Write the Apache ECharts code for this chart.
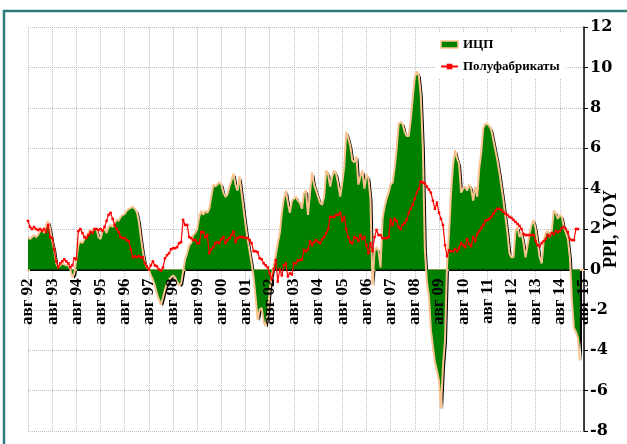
<!DOCTYPE html>
<html>
<head>
<meta charset="utf-8">
<script src="https://cdn.jsdelivr.net/npm/echarts@6/dist/echarts.min.js"></script>
<style>
  html, body { margin: 0; padding: 0; background: #fff; }
  #chart { width: 627px; height: 444px; }
</style>
</head>
<body>
<div id="chart"></div>
<script>
// monthly categories, Aug 1992 .. Aug 2015 (labels shown only for August)
const monthNames = ['янв', 'фев', 'мар', 'апр', 'май', 'июн', 'июл', 'авг', 'сен', 'окт', 'ноя', 'дек'];
const categories = [];
for (let i = 0; i < 277; i++) {
    const yy = (1992 + Math.floor((7 + i) / 12)) % 100;
    categories.push(monthNames[(7 + i) % 12] + ' ' + String(yy).padStart(2, '0'));
}

// ИЦП, % г/г (one row = Aug..Jul)
const icp = [
    1.6, 1.5, 1.6, 1.7, 1.6, 1.7, 1.9, 2.0, 1.8, 2.2, 2.4, 2.0,
    1.4, 1.0, 0.3, 0.1, 0.2, 0.3, 0.25, 0.2, 0.2, 0.0, -0.4, -0.2,
    0.5, 1.2, 1.4, 1.3, 1.5, 1.7, 1.8, 1.95, 1.9, 2.0, 2.0, 1.6,
    1.5, 1.9, 2.0, 1.8, 2.1, 2.2, 2.1, 2.3, 2.45, 2.4, 2.6, 2.7,
    2.75, 2.9, 3.0, 3.05, 3.1, 3.0, 2.85, 2.4, 1.6, 0.9, 0.35, 0.1,
    0.0, -0.3, -0.5, -0.8, -1.2, -1.5, -1.75, -1.4, -1.0, -0.7, -0.5, -0.4,
    -0.3, -0.4, -0.6, -0.8, -0.7, -0.1, 0.5, 0.8, 1.2, 1.3, 1.7, 1.8,
    2.0, 2.6, 2.9, 2.7, 2.9, 2.8, 3.0, 3.6, 4.2, 4.1, 4.2, 4.3,
    4.2, 3.8, 3.6, 3.7, 4.1, 4.4, 4.75, 4.2, 3.9, 4.6, 3.8, 3.0,
    2.2, 1.5, 0.9, 0.3, -0.4, -1.4, -2.5, -2.0, -1.9, -2.6, -2.8, -2.2,
    -1.0, -0.3, 0.2, 0.7, 1.3, 1.8, 2.8, 3.5, 3.9, 3.3, 2.8, 3.4,
    3.5, 3.6, 3.4, 3.3, 3.0, 3.8, 3.9, 2.7, 3.8, 4.8, 4.2, 3.9,
    3.6, 3.3, 3.2, 3.6, 4.9, 4.7, 4.1, 4.6, 4.9, 4.7, 4.2, 3.6,
    4.3, 5.1, 6.8, 6.5, 6.1, 5.4, 5.3, 5.6, 4.2, 4.6, 4.9, 4.0,
    4.7, 4.5, 3.5, -0.8, 0.9, 1.1, 0.9, 0.1, 2.5, 3.1, 3.5, 3.8,
    4.2, 4.3, 5.0, 6.0, 7.2, 7.3, 7.2, 6.8, 6.6, 6.6, 7.4, 8.5,
    9.5, 9.8, 9.6, 8.6, 6.0, 1.0, -0.6, -1.3, -3.0, -3.8, -4.6, -5.0,
    -5.5, -6.9, -4.8, -3.5, 0.2, 1.8, 3.8, 5.2, 5.9, 5.5, 5.2, 3.8,
    4.0, 4.1, 3.9, 4.2, 4.0, 3.4, 4.1, 3.6, 5.0, 5.8, 7.0, 7.2,
    7.2, 7.1, 6.9, 6.4, 5.9, 5.4, 4.8, 4.1, 3.4, 2.6, 1.8, 0.8,
    0.6, 0.6, 1.9, 2.1, 1.6, 1.8, 1.3, 0.6, 1.2, 1.8, 2.2, 2.45,
    2.0, 1.3, 0.6, 0.3, 1.4, 1.8, 1.9, 1.6, 1.9, 2.9, 2.8, 2.5,
    2.7, 2.6, 2.1, 1.8, 1.5, 0.6, -1.5, -2.9, -3.1, -3.4, -4.5
];

// Полуфабрикаты, % г/г
const semi = [
    2.4, 2.1, 2.0, 2.1, 2.0, 1.95, 2.0, 1.9, 2.0, 1.85, 2.2, 1.6,
    1.55, 1.0, 0.4, 0.1, 0.3, 0.4, 0.5, 0.4, 0.3, 0.1, 0.2, 0.55,
    0.5, 1.9, 2.0, 1.8, 1.6, 1.55, 1.7, 1.85, 1.8, 2.0, 2.0, 1.95,
    2.0, 1.9, 2.1, 2.4, 2.7, 2.8, 2.5, 2.2, 2.0, 1.85, 1.6, 1.55,
    1.55, 1.45, 1.4, 1.0, 0.6, 0.65, 0.6, 0.65, 0.6, 0.6, 0.3, 0.15,
    0.0, 0.2, 0.4, 0.2, 0.15, 0.0, -0.05, 0.1, 0.55, 0.7, 0.8, 1.0,
    1.05, 1.05, 1.1, 1.3, 1.35, 2.45, 2.2, 2.2, 1.6, 1.55, 1.45, 1.45,
    1.3, 1.3, 1.85, 1.85, 1.6, 1.7, 0.8, 1.0, 1.1, 1.3, 1.35, 1.3,
    1.5, 1.6, 1.3, 1.45, 1.55, 1.7, 1.87, 1.35, 1.55, 1.6, 1.6, 1.6,
    1.55, 1.55, 1.45, 1.3, 0.9, 0.9, 0.85, 0.55, 0.5, 0.3, 0.2, 0.1,
    -0.2, -0.5, 0.0, 0.46, -0.6, 0.0, -0.3, 0.2, 0.3, -0.35, -0.2, -0.25,
    0.3, 0.3, 0.45, 0.46, 0.5, 0.96, 0.9, 1.0, 1.4, 1.2, 1.35, 1.45,
    1.35, 1.3, 1.5, 1.6, 1.8, 2.0, 2.6, 2.6, 2.6, 2.7, 2.7, 2.8,
    2.4, 2.6, 2.0, 1.6, 1.35, 1.3, 1.6, 1.55, 1.4, 1.7, 1.5, 1.6,
    1.2, 0.8, 1.3, 0.9, 1.6, 1.95, 1.7, 1.7, 1.55, 1.55, 1.55, 1.6,
    2.45, 2.2, 2.5, 2.4, 2.1, 2.0, 2.2, 2.3, 2.45, 2.8, 3.0, 3.2,
    3.5, 3.8, 4.0, 4.35, 4.3, 4.25, 4.1, 3.95, 3.8, 3.4, 3.0, 3.3,
    2.8, 2.5, 2.2, 1.2, 0.65, 0.95, 0.9, 0.9, 1.0, 0.9, 1.05, 1.3,
    1.2, 1.1, 1.5, 1.25, 1.15, 1.6, 1.4, 1.75, 1.9, 2.05, 2.2, 2.4,
    2.45, 2.5, 2.6, 2.75, 2.9, 3.0, 3.0, 2.95, 2.85, 2.75, 2.7, 2.6,
    2.55, 2.45, 2.35, 2.25, 2.15, 2.0, 1.75, 1.7, 1.7, 1.7, 1.7, 1.7,
    1.4, 1.2, 1.15, 1.3, 1.4, 1.5, 1.7, 1.65, 1.8, 1.75, 1.9, 1.85,
    1.9, 2.05, 2.1, 2.0, 1.85, 1.5, 1.45, 1.45, 2.0, 2.0
];

const serif = "'Liberation Serif', 'Times New Roman', serif";
const tan = '#F9C38F';
const gridColor = '#BDBDBD';

const myChart = echarts.init(document.getElementById('chart'));

// x axis sits on the zero line: plot height 404 px, zero at 12/20 of it
const zeroOffset = -161.6;

const option = {
    animation: false,
    graphic: [{
        type: 'rect',
        silent: true,
        shape: { x: 4, y: 11, width: 650, height: 470 },
        style: { fill: 'none', stroke: '#2E7D7A', lineWidth: 2.5 }
    }],
    grid: { left: 28, top: 27, right: 43, bottom: 13, outerBoundsMode: 'none' },
    legend: {
        orient: 'vertical',
        left: 436,
        top: 33,
        backgroundColor: '#fff',
        padding: [5, 6, 5, 4],
        itemGap: 9,
        itemWidth: 17,
        itemHeight: 7,
        textStyle: { fontFamily: serif, fontWeight: 'bold', fontSize: 13, color: '#000' },
        data: [
            { name: 'ИЦП', icon: 'rect', itemStyle: { color: '#008000', borderColor: tan, borderWidth: 1.5 } },
            { name: 'Полуфабрикаты' }
        ]
    },
    xAxis: [
        {
            // gridlines + baseline, under the series
            type: 'category',
            data: categories,
            boundaryGap: false,
            offset: zeroOffset,
            axisLine: { onZero: false, lineStyle: { color: tan, width: 2 } },
            axisTick: { show: false },
            axisLabel: { show: false },
            splitLine: { show: true, interval: 11, lineStyle: { color: gridColor, type: 'dotted' } }
        },
        {
            // labels only, drawn above the green area
            type: 'category',
            data: categories,
            boundaryGap: false,
            position: 'bottom',
            offset: zeroOffset,
            z: 10,
            axisLine: { show: false, onZero: false },
            axisTick: { show: false },
            splitLine: { show: false },
            axisLabel: {
                interval: 11,
                rotate: 90,
                margin: 9,
                fontFamily: serif,
                fontWeight: 'bold',
                fontSize: 17,
                color: '#000'
            }
        }
    ],
    yAxis: {
        type: 'value',
        position: 'right',
        min: -8,
        max: 12,
        interval: 2,
        axisLine: { show: true, lineStyle: { color: '#000', width: 1.5 } },
        axisTick: { show: true, length: 4, lineStyle: { color: '#000' } },
        axisLabel: {
            margin: 6,
            fontFamily: "'DejaVu Serif', serif",
            fontWeight: 'bold',
            fontSize: 16,
            color: '#000'
        },
        splitLine: { lineStyle: { color: gridColor, type: 'dotted' } },
        name: 'PPI, YOY',
        nameLocation: 'middle',
        nameRotate: 90,
        nameGap: 18,
        nameMoveOverlap: false,
        nameTextStyle: { fontFamily: serif, fontWeight: 'bold', fontSize: 18, color: '#000' }
    },
    series: [
        {
            name: 'ИЦП',
            type: 'line',
            data: icp,
            symbol: 'none',
            lineStyle: { color: tan, width: 2 },
            itemStyle: { color: '#008000' },
            areaStyle: {
                color: '#008000',
                opacity: 1,
                shadowColor: '#000',
                shadowOffsetX: 2,
                shadowOffsetY: 1.5
            },
            z: 2
        },
        {
            name: 'Полуфабрикаты',
            type: 'line',
            data: semi,
            symbol: 'rect',
            symbolSize: 2.5,
            showAllSymbol: true,
            lineStyle: { color: '#FF0000', width: 1.2 },
            itemStyle: { color: '#FF0000' },
            z: 3
        }
    ]
};

myChart.setOption(option);
</script>
</body>
</html>
